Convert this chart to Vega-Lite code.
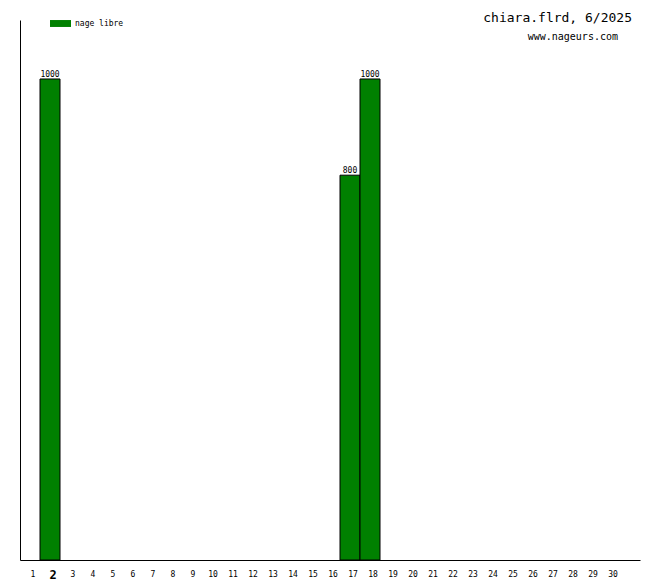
{
  "$schema": "https://vega.github.io/schema/vega-lite/v6.json",
  "autosize": "none",
  "width": 620,
  "height": 540,
  "padding": {"left": 20, "top": 20, "right": 20, "bottom": 20},
  "background": "white",
  "config": {
    "view": {"stroke": null},
    "font": "DejaVu Sans Mono"
  },
  "title": {
    "text": "chiara.flrd, 6/2025",
    "subtitle": "www.nageurs.com\u2800\u2800",
    "anchor": "end",
    "frame": "group",
    "orient": "top",
    "font": "DejaVu Sans Mono",
    "fontSize": 13,
    "fontWeight": "normal",
    "subtitleFont": "DejaVu Sans Mono",
    "subtitleFontSize": 10,
    "subtitlePadding": 7,
    "offset": -29,
    "dx": -8,
    "color": "black",
    "subtitleColor": "black"
  },
  "data": {
    "values": [
      {"day": 2, "distance": 1000, "type": "nage libre"},
      {"day": 17, "distance": 800, "type": "nage libre"},
      {"day": 18, "distance": 1000, "type": "nage libre"}
    ]
  },
  "encoding": {
    "x": {
      "field": "day",
      "type": "ordinal",
      "scale": {
        "domain": [1,2,3,4,5,6,7,8,9,10,11,12,13,14,15,16,17,18,19,20,21,22,23,24,25,26,27,28,29,30,31],
        "paddingInner": 0,
        "paddingOuter": 0
      },
      "axis": {
        "values": [1,2,3,4,5,6,7,8,9,10,11,12,13,14,15,16,17,18,19,20,21,22,23,24,25,26,27,28,29,30],
        "title": null,
        "ticks": false,
        "grid": false,
        "labelAngle": 0,
        "labelFont": "DejaVu Sans Mono",
        "labelFontSize": {"expr": "datum.value == 2 ? 12 : 8"},
        "labelFontWeight": {"expr": "datum.value == 2 ? 'bold' : 'normal'"},
        "labelColor": "black",
        "labelOffset": 3,
        "labelPadding": 14,
        "labelBaseline": "middle",
        "domainColor": "black",
        "domainWidth": 1
      }
    },
    "y": {
      "field": "distance",
      "type": "quantitative",
      "scale": {"domain": [0, 1122.6], "nice": false, "zero": true},
      "axis": {
        "title": null,
        "ticks": false,
        "labels": false,
        "grid": false,
        "domainColor": "black",
        "domainWidth": 1
      }
    }
  },
  "layer": [
    {
      "mark": {"type": "bar", "stroke": "black", "strokeWidth": 1},
      "encoding": {
        "color": {
          "field": "type",
          "type": "nominal",
          "scale": {"range": ["#008000"]},
          "legend": {
            "title": null,
            "orient": "none",
            "legendX": 30,
            "legendY": -7,
            "padding": 0,
            "symbolType": "M-1,-0.33H1V0.33H-1Z",
            "symbolSize": 441,
            "symbolStrokeWidth": 0,
            "symbolOpacity": 1,
            "labelFont": "DejaVu Sans Mono",
            "labelFontSize": 8,
            "labelColor": "black",
            "labelOffset": 4
          }
        }
      }
    },
    {
      "mark": {
        "type": "text",
        "baseline": "alphabetic",
        "dy": -2,
        "font": "DejaVu Sans Mono",
        "fontSize": 8,
        "color": "black"
      },
      "encoding": {
        "text": {"field": "distance", "type": "quantitative"}
      }
    }
  ]
}
